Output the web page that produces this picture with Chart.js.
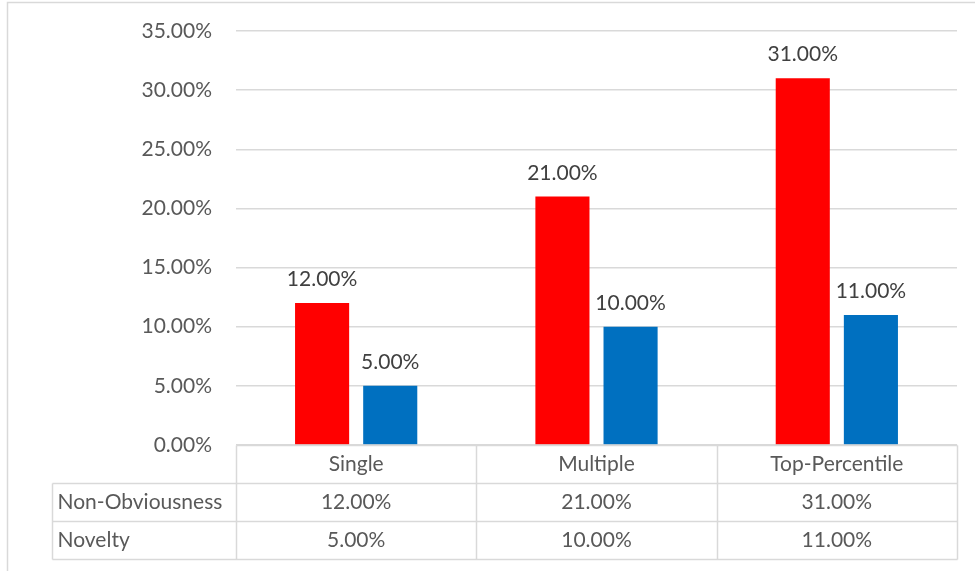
<!DOCTYPE html>
<html>
<head>
<meta charset="utf-8">
<script src="https://cdn.jsdelivr.net/npm/chart.js@4/dist/chart.umd.min.js"></script>
<style>
  html, body { margin: 0; padding: 0; background: #fff; }
  #wrap { width: 975px; height: 571px; }
</style>
</head>
<body>
<div id="wrap"><canvas id="barChart" width="975" height="571"></canvas></div>
<script>
const categories = ["Single", "Multiple", "Top-Percentile"];
const seriesNames = ["Non-Obviousness", "Novelty"];
const nonObviousness = [0.12, 0.21, 0.31];
const novelty = [0.05, 0.10, 0.11];
const yTicks = [0, 0.05, 0.10, 0.15, 0.20, 0.25, 0.30, 0.35];

const FONT = "Lato, 'Open Sans', sans-serif";
const TEXT = "#595959";
const LINE = "#d9d9d9";
const pct = v => (v * 100).toFixed(2) + "%";

// value labels above bars
const barLabels = {
  id: "barLabels",
  afterDatasetsDraw(chart) {
    const ctx = chart.ctx;
    ctx.save();
    ctx.font = "21px " + FONT;
    ctx.fillStyle = "#404040";
    ctx.textAlign = "center";
    ctx.textBaseline = "alphabetic";
    chart.data.datasets.forEach((ds, i) => {
      chart.getDatasetMeta(i).data.forEach((bar, j) => {
        ctx.fillText(pct(ds.data[j]), bar.x, bar.y - 17);
      });
    });
    ctx.restore();
  }
};

// Excel-style data table under the plot
const dataTable = {
  id: "dataTable",
  beforeDraw(chart) {
    const ctx = chart.ctx;
    ctx.save();
    ctx.strokeStyle = LINE;
    ctx.lineWidth = 1.5;
    ctx.beginPath();
    ctx.moveTo(7.5, 571);
    ctx.lineTo(7.5, 2.5);
    ctx.lineTo(975, 2.5);
    ctx.stroke();
    ctx.restore();
  },
  afterDraw(chart) {
    const ctx = chart.ctx;
    const x = chart.scales.x;
    const area = chart.chartArea;
    const colW = (x.right - x.left) / categories.length;
    const rowH = 38;
    const top = Math.round(area.bottom) + 0.5;
    const left = Math.round(x.left) + 0.5;
    const right = Math.round(x.right) + 0.5;
    const labelLeft = 52.5;
    const rows = [nonObviousness, novelty];

    ctx.save();
    ctx.strokeStyle = LINE;
    ctx.lineWidth = 1.5;
    ctx.beginPath();
    // horizontal lines
    ctx.moveTo(left, top); ctx.lineTo(right, top);
    for (let r = 1; r <= rows.length + 1; r++) {
      ctx.moveTo(labelLeft, top + r * rowH);
      ctx.lineTo(right, top + r * rowH);
    }
    // vertical lines
    for (let c = 0; c <= categories.length; c++) {
      const cx = Math.round(x.left + c * colW) + 0.5;
      ctx.moveTo(cx, top);
      ctx.lineTo(cx, top + (rows.length + 1) * rowH);
    }
    ctx.moveTo(labelLeft, top + rowH);
    ctx.lineTo(labelLeft, top + (rows.length + 1) * rowH);
    ctx.stroke();

    ctx.font = "21px " + FONT;
    ctx.fillStyle = TEXT;
    ctx.textBaseline = "middle";
    ctx.textAlign = "center";
    categories.forEach((c, i) => {
      ctx.fillText(c, x.getPixelForValue(i), top + rowH / 2);
    });
    rows.forEach((vals, r) => {
      const cy = top + (r + 1) * rowH + rowH / 2;
      ctx.textAlign = "left";
      ctx.fillText(seriesNames[r], labelLeft + 5, cy);
      ctx.textAlign = "center";
      vals.forEach((v, i) => ctx.fillText(pct(v), x.getPixelForValue(i), cy));
    });
    ctx.restore();
  }
};

new Chart(document.getElementById("barChart"), {
  type: "bar",
  data: {
    labels: categories,
    datasets: [
      { label: seriesNames[0], data: nonObviousness, backgroundColor: "#FF0000" },
      { label: seriesNames[1], data: novelty, backgroundColor: "#0070C0" }
    ]
  },
  options: {
    responsive: false,
    animation: false,
    devicePixelRatio: 1,
    layout: { padding: { top: 31, right: 18, bottom: 126, left: 0 } },
    datasets: { bar: { categoryPercentage: 0.567, barPercentage: 0.794 } },
    plugins: { legend: { display: false }, tooltip: { enabled: false } },
    scales: {
      x: { display: false },
      y: {
        min: 0,
        max: 0.35,
        afterBuildTicks(scale) { scale.ticks = yTicks.map(v => ({ value: v })); },
        afterFit(scale) {
          scale.width = 236;
          scale.paddingTop = 0;
          scale.paddingBottom = 0;
        },
        border: { display: false },
        grid: { color: LINE, lineWidth: 1.5, drawTicks: false },
        ticks: {
          padding: 24,
          color: TEXT,
          font: { family: FONT, size: 21 },
          callback: v => pct(v)
        }
      }
    }
  },
  plugins: [barLabels, dataTable]
});
</script>
</body>
</html>
